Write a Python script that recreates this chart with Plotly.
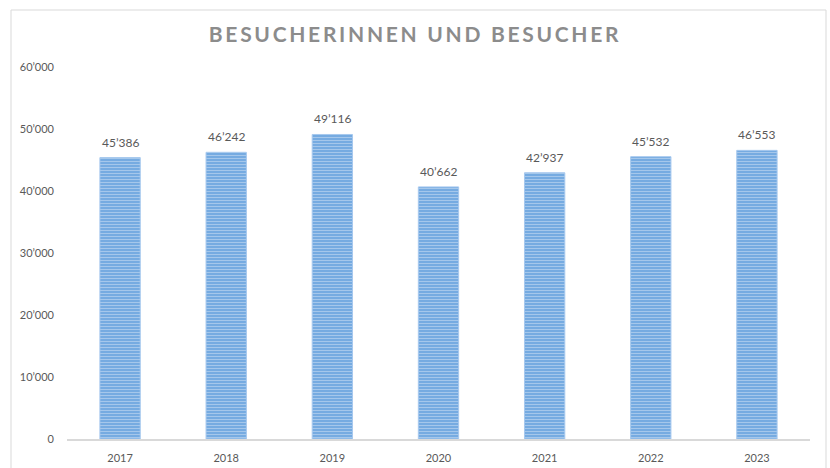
import plotly.graph_objects as go

years = [2017, 2018, 2019, 2020, 2021, 2022, 2023]
visitors = [45386, 46242, 49116, 40662, 42937, 45532, 46553]
y_ticks = [0, 10000, 20000, 30000, 40000, 50000, 60000]
title_text = "BESUCHERINNEN UND BESUCHER"

fig = go.Figure()
fig.add_trace(go.Bar(
    x=years,
    y=visitors,
    marker=dict(
        color="#7aaee3",
        line=dict(color="#a6c8ee", width=1),
        pattern=dict(shape="-", fgcolor="#d3e4f6", bgcolor="#76abe1", size=3, solidity=0.35),
    ),
    hoverinfo="skip",
))

annotations = [
    dict(
        x=yr, y=v, xref="x", yref="y",
        text=f"{v:,}".replace(",", "\u2019"),
        showarrow=False, yanchor="bottom", yshift=6,
        font=dict(family="Lato", size=12, color="#595959"),
    )
    for yr, v in zip(years, visitors)
]

fig.update_layout(
    width=830, height=468,
    margin=dict(l=67, r=20, t=67, b=29, autoexpand=False),
    paper_bgcolor="white",
    plot_bgcolor="white",
    separators=".\u2019",
    bargap=0.62,
    showlegend=False,
    annotations=annotations,
    title=dict(
        text=title_text,
        x=0.5, xanchor="center",
        y=1 - 35 / 468, yanchor="middle",
        font=dict(family="Lato", size=21, color="#8c8c8c", weight="bold"),
    ),
    xaxis=dict(
        type="linear", automargin=False,
        range=[years[0] - 0.5, years[-1] + 0.5],
        tickvals=years, ticktext=[str(y) for y in years],
        showline=True, linecolor="#d9d9d9", linewidth=2,
        showgrid=False, zeroline=False,
        tickfont=dict(family="Lato", size=11, color="#595959"),
        ticks="", ticklabelstandoff=8,
    ),
    yaxis=dict(
        range=[0, 60000], automargin=False,
        tickvals=y_ticks,
        tickformat=",",
        showgrid=False, zeroline=False, showline=False,
        tickfont=dict(family="Lato", size=11, color="#595959"),
        ticks="", ticklabelstandoff=12,
    ),
    shapes=[dict(
        type="rect", xref="paper", yref="paper",
        x0=(11 - 67) / 743, x1=(826 - 67) / 743,
        y0=(439 - 480) / 372, y1=(439 - 10) / 372,
        line=dict(color="#d9d9d9", width=1),
        fillcolor="rgba(0,0,0,0)", layer="below",
    )],
)

post = ("document.body.style.margin='0';"
        "document.querySelectorAll('.gtitle').forEach(function(e){e.style.letterSpacing='2.7px';});")
fig.write_html("out.html", post_script=post, config={"displayModeBar": False})
